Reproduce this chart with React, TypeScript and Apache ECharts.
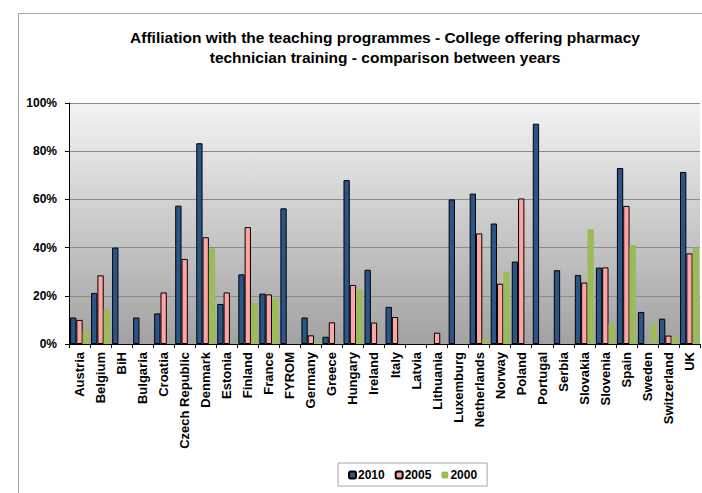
import React, { useEffect, useRef } from "react";
import * as echarts from "echarts";

const countries = [
  "Austria", "Belgium", "BiH", "Bulgaria", "Croatia", "Czech Republic", "Denmark", "Estonia",
  "Finland", "France", "FYROM", "Germany", "Greece", "Hungary", "Ireland", "Italy", "Latvia",
  "Lithuania", "Luxemburg", "Netherlands", "Norway", "Poland", "Portugal", "Serbia", "Slovakia",
  "Slovenia", "Spain", "Sweden", "Switzerland", "UK",
];

const values2010 = [
  11, 21.2, 40, 11, 12.7, 57.4, 83.3, 16.6, 28.9, 20.9, 56.3, 11, 3, 68, 30.8, 15.4, 0,
  0, 60, 62.4, 50, 34.2, 91.4, 30.6, 28.6, 31.7, 73, 13.3, 10.5, 71.4,
];

const values2005 = [
  10, 28.5, 0, 0, 21.4, 35.3, 44.3, 21.4, 48.5, 20.6, 0, 3.6, 9, 24.5, 8.9, 11.2, 0,
  4.7, 0, 45.9, 25, 60.4, 0, 0, 25.5, 31.8, 57.3, 0, 3.5, 37.6,
];

const values2000 = [
  5.5, 14.5, 0, 0, 0, 0, 39.7, 0, 17, 19, 0, 0.8, 0, 22.4, 0, 0, 0,
  0, 0, 1.9, 29.9, 0, 0, 0, 47.6, 8.4, 41.1, 8.4, 2.9, 40,
];

const yTicks = ["0%", "20%", "40%", "60%", "80%", "100%"];
const seriesNames = ["2010", "2005", "2000"];

const FONT = "'Liberation Sans', Arial, sans-serif";

export default function App() {
  const ref = useRef<HTMLDivElement>(null);
  useEffect(() => {
    document.body.style.margin = "0";
    const chart = echarts.init(ref.current!, undefined, { renderer: "svg" });
    const toData = (arr: number[]) => arr.map((v) => (v === 0 ? null : v));
    chart.setOption({
      animation: false,
      backgroundColor: "#ffffff",
      textStyle: { fontFamily: FONT },
      title: {
        text: "Affiliation with the teaching programmes - College offering pharmacy\ntechnician training - comparison between years",
        left: 380,
        top: 22,
        textAlign: "center",
        textStyle: { fontFamily: FONT, fontSize: 15.5, fontWeight: "bold", color: "#000", lineHeight: 20 },
      },
      graphic: [
        {
          type: "rect",
          shape: { x: 18.5, y: 13.5, width: 720, height: 520 },
          style: { fill: "none", stroke: "#a6a6a6", lineWidth: 1 },
          silent: true,
          z: -1,
        },
      ],
      legend: {
        data: seriesNames,
        left: 338,
        top: 463,
        orient: "horizontal",
        borderColor: "#a6a6a6",
        borderWidth: 1,
        padding: [6, 10, 5, 10],
        itemGap: 10,
        itemWidth: 7,
        itemHeight: 7,
        textStyle: { fontFamily: FONT, fontSize: 12, fontWeight: "bold", color: "#000", padding: [0, 0, 0, -3] },
      },
      grid: {
        left: 69,
        right: 2,
        top: 103,
        bottom: 149,
        show: true,
        borderWidth: 0,
        backgroundColor: new echarts.graphic.LinearGradient(0, 0, 0, 1, [
          { offset: 0, color: "#f3f3f3" },
          { offset: 1, color: "#a2a2a2" },
        ]),
      },
      xAxis: {
        type: "category",
        data: countries,
        axisLine: { lineStyle: { color: "#000", width: 1 } },
        axisTick: { show: true, length: 4, lineStyle: { color: "#000" } },
        axisLabel: {
          rotate: 90,
          interval: 0,
          fontFamily: FONT,
          fontSize: 13,
          fontWeight: "bold",
          color: "#000",
          margin: 8,
        },
      },
      yAxis: {
        type: "value",
        min: 0,
        max: 100,
        interval: 20,
        axisLine: { show: true, lineStyle: { color: "#000", width: 1 } },
        axisTick: { show: true, length: 4, lineStyle: { color: "#000" } },
        splitLine: { show: true, lineStyle: { color: "#8c8c8c", width: 1 } },
        axisLabel: {
          formatter: (v: number) => yTicks[Math.round(v / 20)],
          fontFamily: FONT,
          fontSize: 12,
          fontWeight: "bold",
          color: "#000",
          margin: 12,
        },
      },
      series: [
        {
          name: "2010",
          type: "bar",
          data: toData(values2010),
          barGap: "0%",
          barCategoryGap: "10%",
          itemStyle: { color: "#2a5587", borderColor: "#000", borderWidth: 1 },
        },
        {
          name: "2005",
          type: "bar",
          data: toData(values2005),
          barGap: "0%",
          barCategoryGap: "10%",
          itemStyle: { color: "#ffa3a3", borderColor: "#000", borderWidth: 1 },
        },
        {
          name: "2000",
          type: "bar",
          data: toData(values2000),
          barGap: "0%",
          barCategoryGap: "10%",
          itemStyle: { color: "#9bbb59" },
        },
      ],
    });
    return () => chart.dispose();
  }, []);
  return <div ref={ref} style={{ width: 702, height: 493 }} />;
}
